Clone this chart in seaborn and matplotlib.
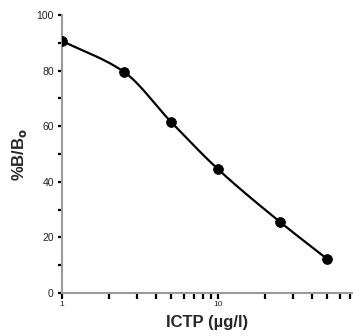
import numpy as np
import pandas as pd
import matplotlib
matplotlib.use("Agg")
import matplotlib.pyplot as plt
import seaborn as sns
from matplotlib.ticker import FixedLocator, NullFormatter

# data
conc = [1.0, 2.5, 5.0, 10.0, 25.0, 50.0]
pct_b = [90.7, 79.5, 61.5, 44.5, 25.5, 12.2]
xtick_vals = [1, 10]
xtick_labels = ["1", "10"]
ytick_vals = [0, 20, 40, 60, 80, 100]

sns.set_theme(style="white")
plt.rcParams['font.family'] = ['Liberation Sans', 'DejaVu Sans']

df = pd.DataFrame({"conc": conc, "pct": pct_b})

# smooth curve through the points (monotone cubic in log-x space)
lx = np.log10(np.array(conc))
yy = np.array(pct_b)
h = np.diff(lx)
d = np.diff(yy) / h
m = np.zeros_like(yy)
m[0], m[-1] = d[0], d[-1]
for i in range(1, len(yy) - 1):
    if d[i - 1] * d[i] > 0:
        w1 = 2 * h[i] + h[i - 1]
        w2 = h[i] + 2 * h[i - 1]
        m[i] = (w1 + w2) / (w1 / d[i - 1] + w2 / d[i])
sx, sy = [], []
for i in range(len(h)):
    t = np.linspace(0, 1, 40)
    h00 = 2 * t**3 - 3 * t**2 + 1
    h10 = t**3 - 2 * t**2 + t
    h01 = -2 * t**3 + 3 * t**2
    h11 = t**3 - t**2
    sx.extend(lx[i] + t * h[i])
    sy.extend(h00 * yy[i] + h10 * h[i] * m[i] + h01 * yy[i + 1] + h11 * h[i] * m[i + 1])
curve = pd.DataFrame({"conc": 10 ** np.array(sx), "pct": sy})

fig = plt.figure(figsize=(3.53, 3.36), dpi=100)
ax = fig.add_axes([0.176, 0.128, 0.821, 0.827])

sns.lineplot(data=curve, x="conc", y="pct", ax=ax, color="black", lw=1.6, sort=False)
sns.scatterplot(data=df, x="conc", y="pct", ax=ax, color="black", s=50, edgecolor="black", zorder=5)

ax.set_xscale("log")
ax.set_xlim(1, 72)
ax.set_ylim(0, 100)

for s in ["top", "right"]:
    ax.spines[s].set_visible(False)
for s in ["left", "bottom"]:
    ax.spines[s].set_color("#9a9a9a")
    ax.spines[s].set_linewidth(1.5)

ax.xaxis.set_major_locator(FixedLocator(xtick_vals))
ax.set_xticklabels(xtick_labels)
minor_x = [v * d for d in (1, 10) for v in range(2, 10) if v * d <= 72]
ax.xaxis.set_minor_locator(FixedLocator(minor_x))
ax.xaxis.set_minor_formatter(NullFormatter())
ax.set_yticks(ytick_vals)
ax.yaxis.set_minor_locator(FixedLocator([10, 30, 50, 70, 90]))

ax.tick_params(axis="x", which="both", direction="out", length=4, width=1.6,
               color="black", labelsize=6, pad=2, bottom=True)
ax.tick_params(axis="y", which="both", direction="out", length=3, width=1.6,
               color="black", labelsize=7.5, pad=3, left=True)
for lbl in ax.get_xticklabels() + ax.get_yticklabels():
    lbl.set_color("#222222")

ax.set_xlabel("ICTP (µg/l)", fontsize=12, fontweight="bold", labelpad=5)
ax.set_ylabel("%B/B$_\\mathbf{o}$", fontsize=12, fontweight="bold", labelpad=5)
ax.grid(False)

fig.savefig("out.png", dpi=100)
